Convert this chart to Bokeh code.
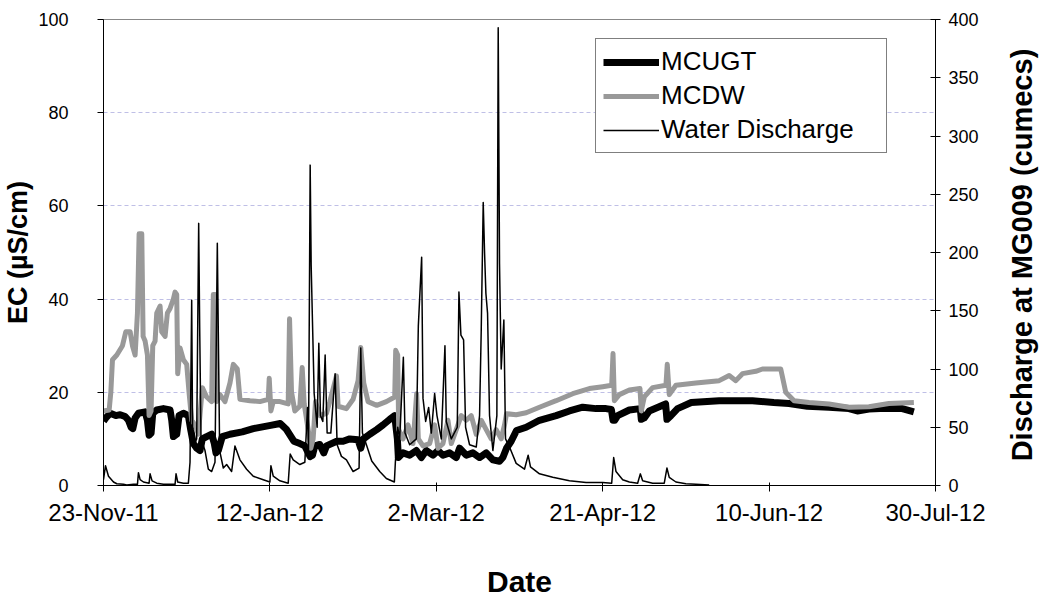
import math
from bokeh.plotting import figure
from bokeh.models import (Range1d, LinearAxis, FixedTicker, Legend, LegendItem)
from bokeh.embed import file_html
from bokeh.resources import INLINE

# ---------------- data (x = days since 23-Nov-2011) ----------------
x_ticks = [0, 50, 100, 150, 200, 250]
x_tick_labels = ["23-Nov-11", "12-Jan-12", "2-Mar-12", "21-Apr-12", "10-Jun-12", "30-Jul-12"]
ec_ticks = [0, 20, 40, 60, 80, 100]
q_ticks = [0, 50, 100, 150, 200, 250, 300, 350, 400]

mcugt_day = [0, 0.7, 2, 3.7, 5, 6.5, 7.5, 8.3, 8.8, 9.5, 10.5, 12.5, 13.2, 13.7, 14.3, 14.8,
             16, 18, 20, 20.5, 21, 22, 22.7, 24, 25.5, 26.2, 27, 28, 29, 29.7, 31, 32.5,
             33.3, 33.8, 34.5, 35.7, 38, 41.7, 45, 50.2, 53.1, 55, 57.2, 59, 60.5, 62.1,
             62.8, 63.5, 65, 66.2, 67, 70.1, 72, 74, 76.5, 77.3, 78.1, 80, 82.1, 84, 86,
             87.5, 88.3, 88.6, 90, 92, 94, 95.5, 97, 99, 100.5, 102, 104, 106, 107, 109,
             111, 113, 115, 117, 119, 120, 121.1, 122.5, 124.1, 127, 131, 136, 140, 144,
             148, 151, 152.6, 153.1, 153.6, 154.5, 158, 161.3, 161.6, 162.5, 164, 168.9,
             169.3, 170.5, 172.5, 176.6, 185, 195, 201.4, 206, 211.5, 218, 224, 226.5,
             230, 235, 240, 243.5]
mcugt_ec = [13.8, 14.5, 15.5, 15, 15.2, 14.8, 14, 12.5, 12.2, 14.5, 15.5, 15.8, 14, 10.8, 11.2, 15.5,
            16.2, 16.5, 16.2, 14, 10.5, 11, 15, 15.5, 15, 12, 9, 8, 7.5, 10, 10.5, 11,
            9, 7, 7.5, 10.5, 11, 11.5, 12.2, 12.9, 13.3, 12, 9.5, 9, 8.5, 6.2,
            6.5, 8.5, 8.8, 7, 8.5, 9.5, 9.5, 10, 9.8, 8, 10, 11, 12, 13, 14.2,
            15, 10, 6, 7, 6.5, 7.5, 6, 7.5, 6.5, 7.5, 6.5, 7, 6, 8, 6.5,
            7, 6, 7, 5.5, 5.2, 6, 8, 9.5, 11.8, 12.5, 14, 15, 16, 16.8,
            16.5, 16.5, 16.3, 14, 14, 15, 16.2, 16.5, 14.2, 14.5, 16, 17.5,
            14.2, 15, 16.5, 17.8, 18.2, 18.2, 17.8, 17.6, 17, 16.8, 16.5, 16,
            16.4, 16.6, 16.5, 15.8]

mcdw_day = [0, 1.7, 2.2, 2.7, 4, 5.7, 6.7, 8, 8.7, 9.5, 10.2, 10.7, 11.5, 11.9, 12.5, 13.2,
            13.7, 14.3, 14.8, 15.5, 16, 17, 17.5, 18.5, 19.2, 20, 21, 21.5, 22, 22.3, 23,
            24, 25, 25.7, 26.5, 27.5, 28.5, 29.7, 31, 32.5, 33, 33.6, 34, 35, 36.5, 38, 39,
            40.2, 41, 44, 47, 49.5, 49.8, 50.3, 51, 53, 55.5, 55.9, 56.5, 57.5, 59, 59.7,
            60.3, 61.5, 62.3, 63, 63.7, 65, 67, 68, 70, 70.5, 73, 75, 76.5, 77.3, 78.2,
            79.5, 82.1, 85, 87.5, 87.8, 88.4, 88.7, 90, 91.5, 93, 94.1, 94.6, 96, 98, 99.5,
            100.5, 102, 103.5, 104.5, 106, 107.5, 109, 110.5, 112, 113.5, 115, 116.5, 118,
            119.5, 120.5, 121.1, 124, 127, 131, 136, 141, 146, 150, 152.7, 153.1, 153.5,
            155, 158, 161.2, 161.6, 162.5, 165, 169, 169.4, 170, 172, 178, 185, 188, 190,
            192, 196, 198, 203.5, 205, 207.5, 212, 218, 224, 230, 236, 243.5]
mcdw_ec = [16, 16.2, 20, 27, 28, 30, 33, 33, 30, 28, 37, 54, 54, 32, 31, 28,
           15, 16, 30, 31, 37, 38.5, 33, 32, 37, 38, 40, 41.5, 41, 24, 29.5,
           27, 26, 20, 14, 13, 11, 21, 19, 18, 41, 41, 18, 19.5, 18, 22, 26,
           25, 18.5, 18.2, 18, 18.5, 23, 16, 18, 18, 17.5, 35.8, 20, 16, 17, 25.3,
           17.5, 12, 8, 10, 18, 15, 15.5, 18, 23.5, 17, 16.5, 18.5, 22.5, 29.6, 22,
           18, 17.2, 18, 19, 29, 28, 12, 10, 13, 9, 19.7, 10, 8.5, 9, 13,
           8, 9, 14, 9, 12, 15, 14, 15, 11, 14, 12, 10, 12,
           10, 13, 15.4, 15.2, 15.6, 16.8, 18.2, 19.7, 20.8, 21.2, 21.5, 28.3, 18.2,
           19.5, 20.5, 20.8, 16, 19, 21, 21.5, 26, 19.5, 21.5, 22, 22.5, 23.6, 22.5,
           24, 24.5, 25, 25, 20, 18.2, 17.8, 17.5, 16.8, 16.9, 17.6, 17.8]

q_day = [0, 0.6, 1.5, 3, 4, 6, 7, 9, 10.2, 10.5, 11, 12, 13.7, 14, 14.6, 16, 18, 20, 21.5,
         21.8, 22.3, 24, 25.5, 26, 26.5, 26.8, 28, 28.6, 28.9, 29.3, 30.5, 31.5, 32.5, 33.5,
         34.2, 34.5, 34.9, 36, 37, 38.5, 39.5, 41, 43, 45, 48, 50, 50.3, 51, 53, 55.5, 56.1,
         57, 59, 60.5, 61.3, 61.6, 62.1, 62.4, 62.8, 63.3, 64.2, 64.7, 65.2, 65.9, 66.6,
         67.2, 68.3, 69.6, 70.2, 71.5, 73, 75, 76.8, 77.3, 77.8, 79, 80.6, 83, 85, 87.4,
         87.7, 88.4, 89, 90.1, 90.6, 92, 94, 94.6, 95.6, 96, 96.8, 97.7, 98.5, 99.5, 100.2,
         101.5, 102.6, 103, 104.5, 106.3, 106.8, 107.4, 108.2, 108.8, 110, 112, 113, 113.5,
         114.1, 114.5, 114.9, 115.4, 116, 117, 118.2, 118.6, 119, 119.5, 120.3, 120.8, 122,
         124, 126.5, 127.6, 128.3, 131, 135, 140, 145, 150, 152.7, 153.3, 154, 156, 158,
         160.5, 161.3, 162, 165, 168.5, 169.3, 170, 172, 175, 178, 182]
q_val = [5, 17, 8, 3, 1.5, 1, 0.5, 1, 1, 11, 5, 3, 2, 10, 4, 2, 1, 1, 1,
         10, 3, 2, 2, 20, 159, 33, 40, 225, 136, 40, 30, 14, 12, 20,
         208, 130, 30, 15, 18, 12, 34, 22, 14, 8, 5, 3, 17, 8, 4, 2, 27,
         22, 18, 20, 67, 30, 275, 189, 140, 79, 50, 122, 60, 55, 112,
         45, 45, 96, 35, 25, 22, 12, 15, 118, 45, 35, 21, 12, 6, 3,
         20, 50, 40, 110, 45, 35, 40, 137, 196, 75, 55, 67, 45, 79, 60,
         40, 120, 55, 40, 50, 166, 129, 125, 50, 35, 33, 60, 133,
         243, 200, 165, 148, 60, 30, 60, 393, 190, 100, 142, 40, 33,
         19, 14, 26, 16, 10, 7, 4, 2.6, 2.5, 2, 24, 12, 5, 3,
         2, 10, 4, 2, 2, 15, 7, 3, 1.5, 1, 0.5]

assert len(mcugt_day) == len(mcugt_ec)
assert len(mcdw_day) == len(mcdw_ec)
assert len(q_day) == len(q_val)

FONT = "Liberation Sans"
TXT = "black"

p = figure(width=1056, height=605, output_backend="svg", toolbar_location=None,
           title=None, x_range=Range1d(0, 250), y_range=Range1d(0, 100),
           min_border_left=101, min_border_right=121, min_border_top=19,
           min_border_bottom=120)
p.background_fill_color = "white"
p.border_fill_color = "white"
p.outline_line_color = "#888888"
p.outline_line_width = 1
p.extra_y_ranges = {"q": Range1d(0, 400)}

# grid
p.xgrid.visible = False
p.ygrid.ticker = FixedTicker(ticks=ec_ticks)
p.ygrid.grid_line_color = "#bfbfe6"
p.ygrid.grid_line_dash = "4 3"
p.ygrid.grid_line_width = 1

# bottom axis
xa = p.xaxis[0]
xa.ticker = FixedTicker(ticks=x_ticks)
xa.major_label_overrides = {t: l for t, l in zip(x_ticks, x_tick_labels)}
xa.axis_label = "Date"
xa.axis_label_text_font = FONT
xa.axis_label_text_font_style = "bold"
xa.axis_label_text_font_size = "30px"
xa.axis_label_text_color = TXT
xa.axis_label_standoff = 36
xa.major_label_text_font = FONT
xa.major_label_text_font_size = "24px"
xa.major_label_text_color = TXT
xa.major_label_standoff = 7
xa.major_tick_out = 6
xa.major_tick_in = 3
xa.minor_tick_line_color = None
xa.axis_line_color = "black"
xa.major_tick_line_color = "black"

# left axis
ya = p.yaxis[0]
ya.ticker = FixedTicker(ticks=ec_ticks)
ya.axis_label = "EC (µS/cm)"
ya.axis_label_text_font = FONT
ya.axis_label_text_font_style = "bold"
ya.axis_label_text_font_size = "27px"
ya.axis_label_text_color = TXT
ya.axis_label_standoff = 2
ya.major_label_text_font = FONT
ya.major_label_text_font_size = "18px"
ya.major_label_text_color = TXT
ya.major_label_standoff = 29
ya.major_tick_out = 6
ya.major_tick_in = 0
ya.minor_tick_line_color = None
ya.axis_line_color = "black"
ya.major_tick_line_color = "black"

# right axis
ra = LinearAxis(y_range_name="q", ticker=FixedTicker(ticks=q_ticks))
ra.axis_label = "\u00a0\u00a0\u00a0Discharge at MG009 (cumecs)"
ra.axis_label_text_font = FONT
ra.axis_label_text_font_style = "bold"
ra.axis_label_text_font_size = "29px"
ra.axis_label_text_color = TXT
ra.axis_label_standoff = 40
if hasattr(ra, "axis_label_orientation"):
    ra.axis_label_orientation = math.pi / 2
if hasattr(ra, "axis_label_align"):
    ra.axis_label_align = "start"
ra.major_label_text_font = FONT
ra.major_label_text_font_size = "18px"
ra.major_label_text_color = TXT
ra.major_label_standoff = 8
ra.major_tick_out = 5
ra.major_tick_in = 5
ra.minor_tick_line_color = None
ra.axis_line_color = "black"
ra.major_tick_line_color = "black"
p.add_layout(ra, "right")

# series
r1 = p.line(mcugt_day, mcugt_ec, line_color="black", line_width=7, line_join="round")
r2 = p.line(mcdw_day, mcdw_ec, line_color="#999999", line_width=5, line_join="round")
r3 = p.line(q_day, q_val, y_range_name="q", line_color="black", line_width=1.5,
            line_join="round")

legend = Legend(items=[LegendItem(label="MCUGT", renderers=[r1]),
                       LegendItem(label="MCDW", renderers=[r2]),
                       LegendItem(label="Water Discharge", renderers=[r3])],
                location=(492, 332))
legend.label_text_font = FONT
legend.label_text_font_size = "26px"
legend.label_text_color = TXT
legend.glyph_width = 56
legend.glyph_height = 28
legend.label_height = 28
legend.label_width = 218
legend.label_standoff = 2
legend.padding = 7
legend.spacing = 3
legend.margin = 0
legend.border_line_color = "black"
legend.border_line_width = 1
legend.background_fill_color = "white"
legend.background_fill_alpha = 1
p.add_layout(legend)

open("out.html", "w").write(file_html(p, INLINE))
